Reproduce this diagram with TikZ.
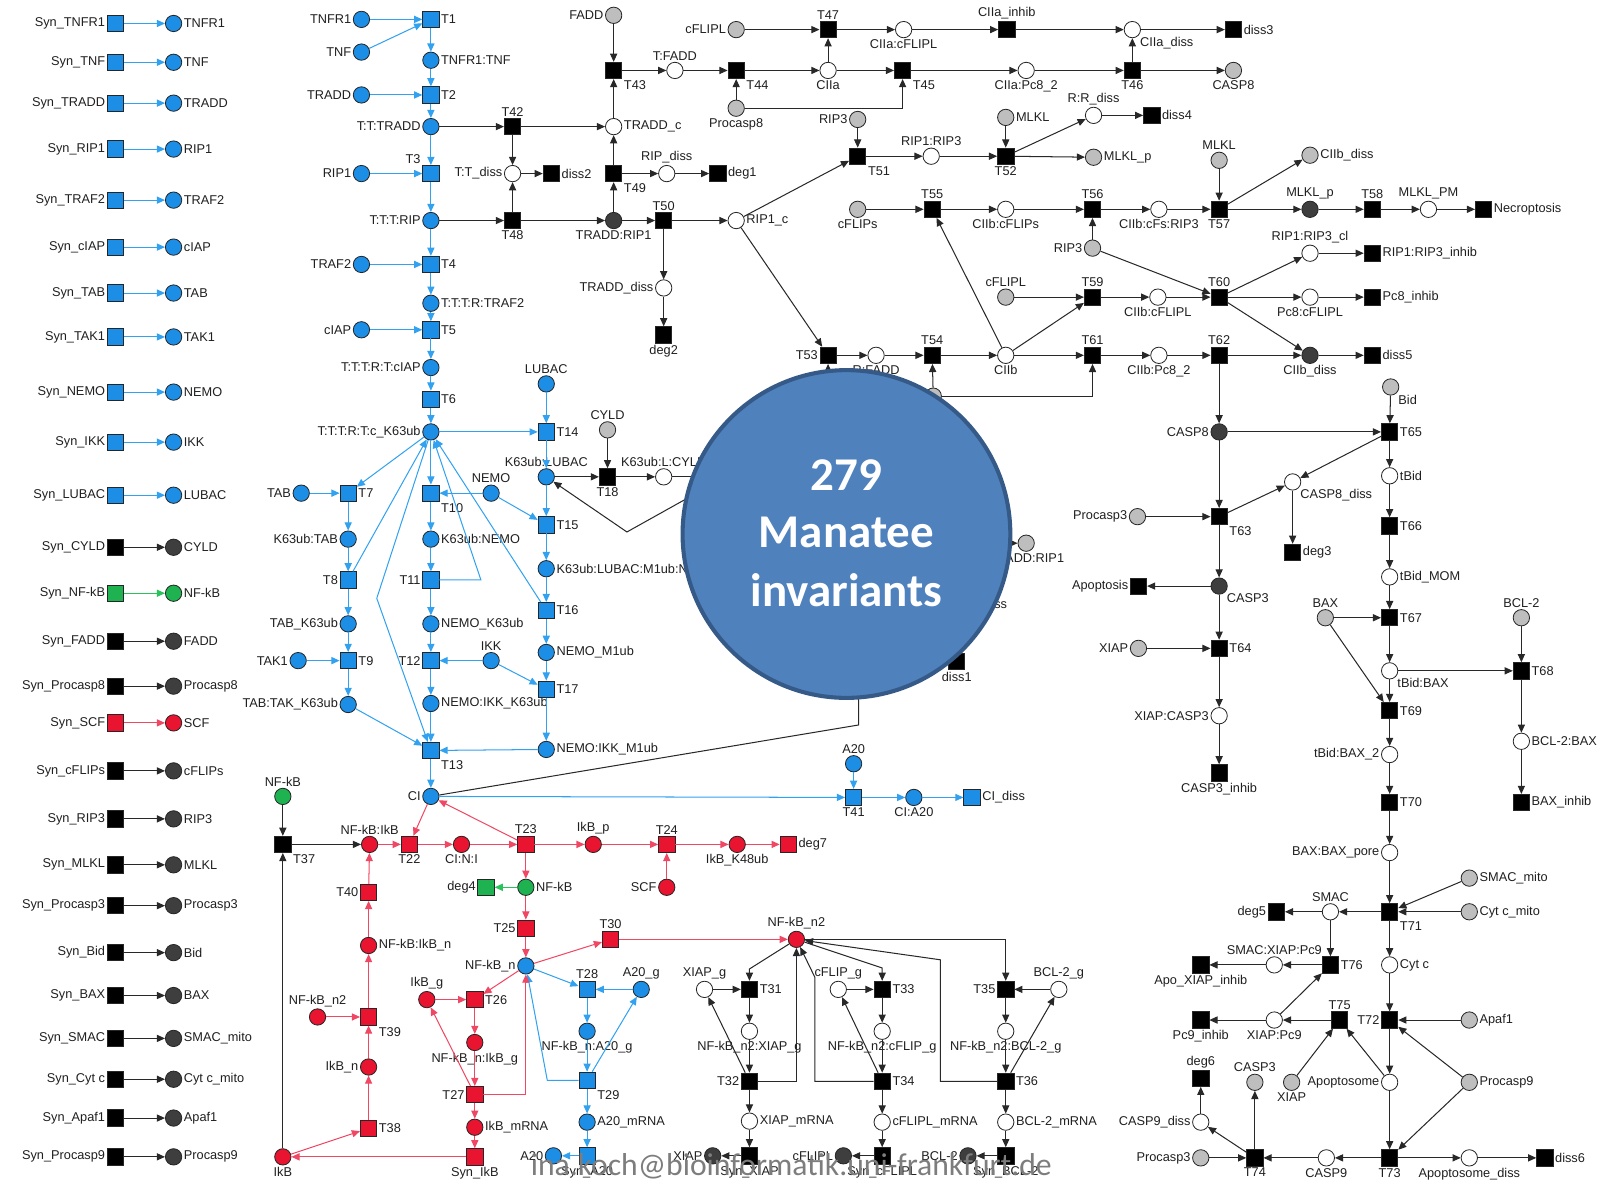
\documentclass[tikz,border=0pt]{standalone}
\usepackage{fontspec}
\setmainfont{Liberation Sans}
\newfontfamily\bubblefont{Carlito}
\usetikzlibrary{arrows.meta}
\definecolor{pblue}{RGB}{28,142,230}
\definecolor{ablue}{RGB}{50,162,240}
\definecolor{pred}{RGB}{232,20,48}
\definecolor{ared}{RGB}{240,72,100}
\definecolor{pgreen}{RGB}{30,178,80}
\definecolor{agreen}{RGB}{40,195,90}
\definecolor{pgray}{RGB}{190,190,190}
\definecolor{pdark}{RGB}{62,62,62}
\definecolor{akblack}{RGB}{40,40,40}
\definecolor{bubble}{RGB}{79,129,189}
\definecolor{bubbleedge}{RGB}{54,90,135}
\definecolor{mailgray}{RGB}{125,125,125}

% place/transition with a label: style, name, position, label side, text
\newcommand\PNode[5]{\node[#1,label={[lab]#4:{#5}}] (#2) at (#3) {};}
% a list of straight arcs source/target
\newcommand\Arcs[2]{\foreach \sa/\sb in {#2} {\draw[#1] (\sa) -- (\sb);}}

\begin{document}
\begin{tikzpicture}[x=1pt,y=-1pt,
  lab/.style={font=\fontsize{12.5}{14}\selectfont, text=black!88, inner sep=1.5pt},
  place/.style={circle, draw=black!85, line width=0.8pt, minimum size=16pt, inner sep=0pt},
  trans/.style={rectangle, draw=black!85, line width=0.8pt, minimum size=16pt, inner sep=0pt},
  placeB/.style={place, fill=pblue}, placeR/.style={place, fill=pred},
  placeG/.style={place, fill=pgreen}, placeK/.style={place, fill=pdark},
  placeY/.style={place, fill=pgray}, placeW/.style={place, fill=white},
  transB/.style={trans, fill=pblue}, transR/.style={trans, fill=pred},
  transG/.style={trans, fill=pgreen}, transK/.style={trans, fill=black},
  arc/.style={line width=1pt, -{Triangle[length=8pt,width=7pt]}},
  aB/.style={arc, draw=ablue}, aR/.style={arc, draw=ared},
  aG/.style={arc, draw=agreen}, aK/.style={arc, draw=akblack},
  plain/.style={line width=1pt, draw=akblack}
]
\useasboundingbox (0,0) rectangle (1568,1158);

% ---------- synthesis column ----------
\foreach \yy/\sl/\pl/\tf/\pf/\ac [count=\i] in {
  23/Syn\_TNFR1/TNFR1/pblue/pblue/ablue,
  61/Syn\_TNF/TNF/pblue/pblue/ablue,
  101/Syn\_TRADD/TRADD/pblue/pblue/ablue,
  146/Syn\_RIP1/RIP1/pblue/pblue/ablue,
  196/Syn\_TRAF2/TRAF2/pblue/pblue/ablue,
  242/Syn\_cIAP/cIAP/pblue/pblue/ablue,
  287/Syn\_TAB/TAB/pblue/pblue/ablue,
  330/Syn\_TAK1/TAK1/pblue/pblue/ablue,
  384/Syn\_NEMO/NEMO/pblue/pblue/ablue,
  433/Syn\_IKK/IKK/pblue/pblue/ablue,
  485/Syn\_LUBAC/LUBAC/pblue/pblue/ablue,
  536/Syn\_CYLD/CYLD/black/pdark/akblack,
  581/Syn\_NF-kB/NF-kB/pgreen/pgreen/agreen,
  628/Syn\_FADD/FADD/black/pdark/akblack,
  672/Syn\_Procasp8/Procasp8/black/pdark/akblack,
  708/Syn\_SCF/SCF/pred/pred/ared,
  755/Syn\_cFLIPs/cFLIPs/black/pdark/akblack,
  802/Syn\_RIP3/RIP3/black/pdark/akblack,
  847/Syn\_MLKL/MLKL/black/pdark/akblack,
  887/Syn\_Procasp3/Procasp3/black/pdark/akblack,
  933/Syn\_Bid/Bid/black/pdark/akblack,
  975/Syn\_BAX/BAX/black/pdark/akblack,
  1017/Syn\_SMAC/SMAC\_mito/black/pdark/akblack,
  1057/Syn\_Cyt c/Cyt c\_mito/black/pdark/akblack,
  1095/Syn\_Apaf1/Apaf1/black/pdark/akblack,
  1133/Syn\_Procasp9/Procasp9/black/pdark/akblack}
{
  \node[trans, fill=\tf, label={[lab]left:{\sl}}] (syn\i) at (113,\yy) {};
  \node[place, fill=\pf, label={[lab]right:{\pl}}] (spl\i) at (170,\yy) {};
  \draw[arc, draw=\ac] (syn\i) -- (spl\i);
}

% ---------- TNF receptor complex (blue) ----------
\PNode{placeB}{btnfr1}{354,19}{left}{TNFR1}
\PNode{transB}{t1}{422,19}{right}{T1}
\PNode{placeB}{btnf}{354,51}{left}{TNF}
\PNode{placeB}{btnfr1tnf}{422,59}{right}{TNFR1:TNF}
\PNode{placeB}{btradd}{354,93}{left}{TRADD}
\PNode{transB}{t2}{422,93}{right}{T2}
\PNode{placeB}{bttradd}{422,124}{left}{T:T:TRADD}
\PNode{transB}{t3}{422,170}{above left}{T3}
\PNode{placeB}{brip1}{354,170}{left}{RIP1}
\PNode{placeB}{btttrip}{422,216}{left}{T:T:T:RIP}
\PNode{placeB}{btraf2}{354,259}{left}{TRAF2}
\PNode{transB}{t4}{422,259}{right}{T4}
\PNode{placeB}{btttrtraf2}{422,297}{right}{T:T:T:R:TRAF2}
\PNode{placeB}{bciap}{354,323}{left}{cIAP}
\PNode{transB}{t5}{422,323}{right}{T5}
\PNode{placeB}{btttrtciap}{422,360}{left}{T:T:T:R:T:cIAP}
\PNode{transB}{t6}{422,391}{right}{T6}
\PNode{placeB}{hub}{422,423}{left}{T:T:T:R:T:c\_K63ub}
\PNode{placeB}{btab}{295,483}{left}{TAB}
\PNode{transB}{t7}{341,483}{right}{T7}
\PNode{placeB}{bk63tab}{341,528}{left}{K63ub:TAB}
\PNode{transB}{t8}{341,568}{left}{T8}
\PNode{placeB}{btabk63}{341,611}{left}{TAB\_K63ub}
\PNode{placeB}{btak1}{292,647}{left}{TAK1}
\PNode{transB}{t9}{341,647}{right}{T9}
\PNode{placeB}{btabtak}{341,690}{left}{TAB:TAK\_K63ub}
\PNode{transB}{t10}{422,483}{below right}{T10}
\PNode{placeB}{bnemo}{481,483}{above}{NEMO}
\PNode{placeB}{bk63nemo}{422,528}{right}{K63ub:NEMO}
\PNode{transB}{t11}{422,568}{left}{T11}
\PNode{placeB}{bnemok63}{422,611}{right}{NEMO\_K63ub}
\PNode{transB}{t12}{422,647}{left}{T12}
\PNode{placeB}{bikk}{481,647}{above}{IKK}
\PNode{placeB}{bnemoikk}{422,689}{right}{NEMO:IKK\_K63ub}
\PNode{transB}{t13}{422,735}{below right}{T13}
\PNode{placeB}{ci}{422,780}{left}{CI}
\PNode{placeB}{blubac}{535,376}{above}{LUBAC}
\PNode{transB}{t14}{535,423}{right}{T14}
\PNode{placeB}{bk63lubac}{535,467}{above}{K63ub:LUBAC}
\PNode{transB}{t15}{535,514}{right}{T15}
\PNode{placeB}{bk63lm}{535,557}{right}{K63ub:LUBAC:M1ub:NEMO}
\PNode{transB}{t16}{535,598}{right}{T16}
\PNode{placeB}{bnemom1}{535,639}{right}{NEMO\_M1ub}
\PNode{transB}{t17}{535,675}{right}{T17}
\PNode{placeB}{bnemoikkm1}{535,734}{right}{NEMO:IKK\_M1ub}
\PNode{placeY}{cyld}{595,421}{above}{CYLD}
\PNode{transK}{t18}{595,467}{below}{T18}
\PNode{placeW}{k63lcyld}{650,467}{above}{K63ub:L:CYLD}
\PNode{placeB}{a20}{836,748}{above}{A20}
\PNode{transB}{t41}{836,781}{below}{T41}
\PNode{placeB}{cia20}{895,781}{below}{CI:A20}
\PNode{transB}{cidiss}{952,781}{right}{CI\_diss}

% ---------- complex II and necroptosis (black) ----------
\PNode{placeY}{fadd}{601,15}{left}{FADD}
\PNode{transK}{t43}{601,69}{below right}{T43}
\PNode{placeW}{tfadd}{661,69}{above}{T:FADD}
\PNode{transK}{t44}{721,69}{below right}{T44}
\PNode{placeY}{procasp8}{721,106}{below}{Procasp8}
\PNode{placeW}{ciia}{811,69}{below}{CIIa}
\PNode{placeY}{cflipla}{721,29}{left}{cFLIPL}
\PNode{transK}{t47}{811,29}{above}{T47}
\PNode{placeW}{ciiacflipl}{885,29}{below}{CIIa:cFLIPL}
\PNode{transK}{ciiainhib}{986,29}{above}{CIIa\_inhib}
\PNode{placeW}{ciiadiss}{1109,29}{below right}{CIIa\_diss}
\PNode{transK}{diss3}{1208,29}{right}{diss3}
\PNode{transK}{t45}{884,69}{below right}{T45}
\PNode{placeW}{ciiapc8}{1005,69}{below}{CIIa:Pc8\_2}
\PNode{transK}{t46}{1109,69}{below}{T46}
\PNode{placeY}{casp8a}{1208,69}{below}{CASP8}
\PNode{transK}{t42}{502,124}{above}{T42}
\PNode{placeW}{traddc}{601,124}{right}{TRADD\_c}
\PNode{placeW}{ttdiss}{502,170}{left}{T:T\_diss}
\PNode{transK}{diss2}{540,170}{right}{diss2}
\PNode{transK}{t49}{601,170}{below right}{T49}
\PNode{placeW}{ripdiss}{653,170}{above}{RIP\_diss}
\PNode{transK}{deg1}{703,170}{right}{deg1}
\PNode{transK}{t48}{502,216}{below}{T48}
\PNode{placeK}{traddrip1}{601,216}{below}{TRADD:RIP1}
\PNode{transK}{t50}{650,216}{above}{T50}
\PNode{placeW}{rip1c}{721,216}{right}{RIP1\_c}
\PNode{placeW}{tradddiss}{650,282}{left}{TRADD\_diss}
\PNode{transK}{deg2}{650,328}{below}{deg2}
\PNode{placeY}{rip3a}{840,117}{left}{RIP3}
\PNode{transK}{t51}{840,153}{below right}{T51}
\PNode{placeW}{rip1rip3}{912,153}{above}{RIP1:RIP3}
\PNode{transK}{t52}{985,153}{below}{T52}
\PNode{placeY}{mlkla}{985,115}{right}{MLKL}
\PNode{placeW}{rrdiss}{1071,113}{above}{R:R\_diss}
\PNode{transK}{diss4}{1128,113}{right}{diss4}
\PNode{placeY}{mlklpa}{1071,154}{right}{MLKL\_p}
\PNode{placeY}{cflips}{840,205}{below}{cFLIPs}
\PNode{transK}{t55}{913,205}{above}{T55}
\PNode{placeW}{ciibcflips}{985,205}{below}{CIIb:cFLIPs}
\PNode{transK}{t56}{1070,205}{above}{T56}
\PNode{placeW}{ciibcfsrip3}{1135,205}{below}{CIIb:cFs:RIP3}
\PNode{transK}{t57}{1194,205}{below}{T57}
\PNode{placeY}{mlklb}{1194,157}{above}{MLKL}
\PNode{placeY}{ciibdissa}{1283,152}{right}{CIIb\_diss}
\PNode{placeK}{mlklpb}{1283,205}{above}{MLKL\_p}
\PNode{transK}{t58}{1344,205}{above}{T58}
\PNode{placeW}{mlklpm}{1399,205}{above}{MLKL\_PM}
\PNode{transK}{necro}{1453,205}{right}{Necroptosis}
\PNode{placeY}{rip3b}{1070,243}{left}{RIP3}
\PNode{placeY}{cfliplb}{985,291}{above}{cFLIPL}
\PNode{transK}{t59}{1070,291}{above}{T59}
\PNode{placeW}{ciibcflipl}{1134,291}{below}{CIIb:cFLIPL}
\PNode{transK}{t60}{1194,291}{above}{T60}
\PNode{placeW}{riprip3cl}{1283,248}{above}{RIP1:RIP3\_cl}
\PNode{transK}{riprip3inh}{1344,248}{right}{RIP1:RIP3\_inhib}
\PNode{placeW}{pc8cflipl}{1283,291}{below}{Pc8:cFLIPL}
\PNode{transK}{pc8inhib}{1344,291}{right}{Pc8\_inhib}
\PNode{transK}{t53}{811,348}{left}{T53}
\PNode{placeW}{rfadd}{858,348}{below}{R:FADD}
\PNode{transK}{t54}{913,348}{above}{T54}
\PNode{placeW}{ciib}{985,348}{below}{CIIb}
\PNode{transK}{t61}{1070,348}{above}{T61}
\PNode{placeW}{ciibpc82}{1135,348}{below}{CIIb:Pc8\_2}
\PNode{transK}{t62}{1194,348}{above}{T62}
\PNode{placeK}{ciibdissb}{1283,348}{below}{CIIb\_diss}
\PNode{transK}{diss5}{1344,348}{right}{diss5}
\node[placeY] (hidplace) at (914,388) {};
\PNode{placeY}{traddripb}{1005,532}{below}{TRADD:RIP1}
\PNode{transK}{diss1}{937,648}{below}{diss1}
\node[lab, anchor=east] (disslab) at (988,591) {diss};

% ---------- apoptosis (black) ----------
\PNode{placeK}{casp8b}{1194,423}{left}{CASP8}
\PNode{placeY}{bid}{1362,379}{below right}{Bid}
\PNode{transK}{t65}{1361,423}{right}{T65}
\PNode{placeW}{tbid}{1361,466}{right}{tBid}
\PNode{placeW}{casp8diss}{1266,472}{below right}{CASP8\_diss}
\PNode{transK}{deg3}{1266,541}{right}{deg3}
\PNode{placeY}{procasp3a}{1114,506}{left}{Procasp3}
\PNode{transK}{t63}{1194,506}{below right}{T63}
\PNode{transK}{t66}{1361,515}{right}{T66}
\PNode{placeW}{tbidmom}{1361,565}{right}{tBid\_MOM}
\PNode{transK}{apoptosis}{1115,574}{left}{Apoptosis}
\PNode{placeK}{casp3a}{1194,574}{below right}{CASP3}
\PNode{transK}{t67}{1361,605}{right}{T67}
\PNode{placeY}{bax}{1298,605}{above}{BAX}
\PNode{placeY}{bcl2}{1490,605}{above}{BCL-2}
\PNode{placeY}{xiapa}{1115,635}{left}{XIAP}
\PNode{transK}{t64}{1194,635}{right}{T64}
\PNode{placeW}{tbidbax}{1361,657}{below right}{tBid:BAX}
\PNode{transK}{t68}{1490,657}{right}{T68}
\PNode{transK}{t69}{1361,696}{right}{T69}
\PNode{placeW}{xiapcasp3}{1194,701}{left}{XIAP:CASP3}
\PNode{placeW}{bcl2bax}{1490,726}{right}{BCL-2:BAX}
\PNode{placeW}{tbidbax2}{1361,739}{left}{tBid:BAX\_2}
\PNode{transK}{casp3inhib}{1194,757}{below}{CASP3\_inhib}
\PNode{transK}{t70}{1361,786}{right}{T70}
\PNode{transK}{baxinhib}{1490,786}{right}{BAX\_inhib}
\PNode{placeW}{baxpore}{1361,835}{left}{BAX:BAX\_pore}
\PNode{placeY}{smacmito}{1439,860}{right}{SMAC\_mito}
\PNode{transK}{t71}{1361,893}{below right}{T71}
\PNode{placeY}{cytcmito}{1439,893}{right}{Cyt c\_mito}
\PNode{placeW}{smac}{1303,893}{above}{SMAC}
\PNode{transK}{deg5}{1250,893}{left}{deg5}
\PNode{transK}{t76}{1303,945}{right}{T76}
\PNode{placeW}{cytc}{1361,945}{right}{Cyt c}
\PNode{placeW}{smacxiappc9}{1248,945}{above}{SMAC:XIAP:Pc9}
\PNode{transK}{apoxiapinhib}{1176,945}{below}{Apo\_XIAP\_inhib}
\PNode{transK}{t75}{1312,999}{above}{T75}
\PNode{transK}{t72}{1361,999}{left}{T72}
\PNode{placeY}{apaf1}{1439,999}{right}{Apaf1}
\PNode{placeW}{xiappc9}{1248,999}{below}{XIAP:Pc9}
\PNode{transK}{pc9inhib}{1176,999}{below}{Pc9\_inhib}
\PNode{transK}{deg6}{1176,1056}{above}{deg6}
\PNode{placeY}{casp3b}{1229,1060}{above}{CASP3}
\PNode{placeY}{xiapb}{1265,1060}{below}{XIAP}
\PNode{placeW}{apoptosome}{1361,1060}{left}{Apoptosome}
\PNode{placeY}{procasp9}{1439,1060}{right}{Procasp9}
\PNode{placeW}{casp9diss}{1176,1099}{left}{CASP9\_diss}
\PNode{placeY}{procasp3b}{1176,1134}{left}{Procasp3}
\PNode{transK}{t74}{1229,1134}{below}{T74}
\PNode{placeW}{casp9}{1299,1134}{below}{CASP9}
\PNode{transK}{t73}{1361,1134}{below}{T73}
\PNode{placeW}{apodiss}{1439,1134}{below}{Apoptosome\_diss}
\PNode{transK}{diss6}{1513,1134}{right}{diss6}

% ---------- NF-kB module (red / green) ----------
\PNode{placeG}{nfkbA}{277,780}{above}{NF-kB}
\PNode{transK}{t37}{277,827}{below right}{T37}
\PNode{placeR}{nfkbikb}{362,827}{above}{NF-kB:IkB}
\PNode{transR}{t22}{401,827}{below}{T22}
\PNode{placeR}{cini}{452,827}{below}{CI:N:I}
\PNode{transR}{t23}{515,827}{above}{T23}
\PNode{placeR}{ikbp}{581,827}{above}{IkB\_p}
\PNode{transR}{t24}{653,827}{above}{T24}
\PNode{placeR}{ikbk48}{722,827}{below}{IkB\_K48ub}
\PNode{transR}{deg7}{772,827}{right}{deg7}
\PNode{placeR}{scf}{653,869}{left}{SCF}
\PNode{placeG}{nfkbB}{515,869}{right}{NF-kB}
\PNode{transG}{deg4}{476,869}{left}{deg4}
\PNode{transR}{t25}{515,909}{left}{T25}
\PNode{placeB}{nfkbn}{515,946}{left}{NF-kB\_n}
\PNode{transR}{t30}{598,920}{above}{T30}
\PNode{placeR}{nfkbn2}{780,920}{above}{NF-kB\_n2}
\PNode{transR}{t40}{361,874}{left}{T40}
\PNode{placeR}{nfkbikbn}{361,926}{right}{NF-kB:IkB\_n}
\PNode{placeR}{ikbg}{418,979}{above}{IkB\_g}
\PNode{transR}{t26}{465,979}{right}{T26}
\PNode{placeR}{nfkbntwob}{311,996}{above}{NF-kB\_n2}
\PNode{transR}{t39}{361,996}{below right}{T39}
\PNode{placeR}{nfkbnikbg}{465,1021}{below}{NF-kB\_n:IkB\_g}
\PNode{placeR}{ikbn}{361,1045}{left}{IkB\_n}
\PNode{transR}{t27}{465,1072}{left}{T27}
\PNode{placeR}{ikbmrna}{465,1104}{right}{IkB\_mRNA}
\PNode{transR}{t38}{361,1105}{right}{T38}
\PNode{placeR}{ikb}{277,1133}{below}{IkB}
\PNode{transR}{synikb}{465,1133}{below}{Syn\_IkB}
\PNode{transB}{t28}{575,969}{above}{T28}
\PNode{placeB}{a20g}{628,969}{above}{A20\_g}
\PNode{placeB}{nfkbna20g}{575,1010}{below}{NF-kB\_n:A20\_g}
\PNode{transB}{t29}{575,1058}{below right}{T29}
\PNode{placeB}{a20mrna}{575,1099}{right}{A20\_mRNA}
\PNode{transB}{syna20}{575,1132}{below}{Syn\_A20}
\PNode{placeB}{a20b}{542,1132}{left}{A20}

% ---------- target genes (black) ----------
\PNode{placeW}{xiapg}{690,969}{above}{XIAP\_g}
\PNode{transK}{t31}{734,969}{right}{T31}
\PNode{placeW}{nxiapg}{734,1010}{below}{NF-kB\_n2:XIAP\_g}
\PNode{transK}{t32}{734,1059}{left}{T32}
\PNode{placeW}{xiapmrna}{734,1098}{right}{XIAP\_mRNA}
\PNode{transK}{synxiap}{734,1132}{below}{Syn\_XIAP}
\PNode{placeK}{xiapc}{698,1132}{left}{XIAP}
\PNode{placeW}{cflipg}{821,969}{above}{cFLIP\_g}
\PNode{transK}{t33}{864,969}{right}{T33}
\PNode{placeW}{ncflipg}{864,1010}{below}{NF-kB\_n2:cFLIP\_g}
\PNode{transK}{t34}{864,1059}{right}{T34}
\PNode{placeW}{cfliplmrna}{864,1099}{right}{cFLIPL\_mRNA}
\PNode{transK}{syncflipl}{864,1132}{below}{Syn\_cFLIPL}
\PNode{placeK}{cfliplc}{826,1132}{left}{cFLIPL}
\PNode{placeW}{bcltwog}{1037,969}{above}{BCL-2\_g}
\PNode{transK}{t35}{985,969}{left}{T35}
\PNode{placeW}{nbcl2g}{985,1010}{below}{NF-kB\_n2:BCL-2\_g}
\PNode{transK}{t36}{985,1059}{right}{T36}
\PNode{placeW}{bcl2mrna}{985,1099}{right}{BCL-2\_mRNA}
\PNode{transK}{synbcl2}{985,1132}{below}{Syn\_BCL-2}
\PNode{placeK}{bcl2c}{948,1132}{left}{BCL-2}

% ---------- arcs ----------
\Arcs{aB}{btnfr1/t1, btnf/t1, t1/btnfr1tnf, btnfr1tnf/t2, btradd/t2, t2/bttradd,
  bttradd/t3, brip1/t3, t3/btttrip, btttrip/t4, btraf2/t4, t4/btttrtraf2,
  btttrtraf2/t5, bciap/t5, t5/btttrtciap, btttrtciap/t6, t6/hub,
  hub/t7, btab/t7, t7/bk63tab, bk63tab/t8, t8/hub, t8/btabk63, btabk63/t9,
  btak1/t9, t9/btabtak, btabtak/t13,
  hub/t10, bnemo/t10, t10/bk63nemo, bk63nemo/t11, t11/bnemok63, bnemok63/t12,
  bikk/t12, t12/bnemoikk, bnemoikk/t13,
  hub/t14, blubac/t14, t14/bk63lubac, bk63lubac/t15, bnemo/t15, t15/bk63lm,
  bk63lm/t16, t16/hub, t16/bnemom1, bnemom1/t17, bikk/t17, t17/bnemoikkm1,
  bnemoikkm1/t13, t13/ci, ci/t41, a20/t41, t41/cia20, cia20/cidiss,
  nfkbn/t28, a20g/t28, t28/nfkbna20g, nfkbna20g/t29, t29/a20g, t29/a20mrna,
  a20mrna/syna20, syna20/a20b}
\draw[aB] (t11) -- (471,568) -- (hub);
\draw[aB] (hub) -- (369,586) -- (t13);
\draw[aB] (t29) -- (536,1058) -- (nfkbn);

\Arcs{aR}{nfkbikb/t22, ci/t22, t22/cini, cini/t23, t23/ci, t23/ikbp, ikbp/t24,
  scf/t24, t24/ikbk48, ikbk48/deg7, t23/nfkbB, nfkbB/t25, t25/nfkbn,
  nfkbn/t30, t30/nfkbn2, nfkbn/t26, ikbg/t26, t26/nfkbnikbg, nfkbnikbg/t27,
  t27/ikbg, t27/ikbmrna, ikbmrna/synikb, synikb/ikb, ikb/t38, t38/ikbn,
  ikbn/t39, nfkbntwob/t39, t39/nfkbikbn, nfkbikbn/t40, t40/nfkbikb}
\draw[aR] (t27) -- (515,1072) -- (nfkbn);
\Arcs{aG}{nfkbB/deg4}
\Arcs{aK}{nfkbA/t37, ikb/t37, t37/nfkbikb}

\Arcs{aK}{xiapg/t31, t31/nxiapg, nxiapg/t32, t32/xiapg, t32/xiapmrna,
  xiapmrna/synxiap, synxiap/xiapc, cflipg/t33, t33/ncflipg, ncflipg/t34,
  t34/cflipg, t34/cfliplmrna, cfliplmrna/syncflipl, syncflipl/cfliplc,
  bcltwog/t35, t35/nbcl2g, nbcl2g/t36, t36/bcltwog, t36/bcl2mrna,
  bcl2mrna/synbcl2, synbcl2/bcl2c}
\draw[aK] (nfkbn2) -- (734,949) -- (t31);
\draw[aK] (nfkbn2) -- (864,948) -- (t33);
\draw[aK] (nfkbn2) -- (985,920) -- (t35);
\draw[aK] (t32) -- (780,1059) -- (nfkbn2);
\draw[aK] (t34) -- (798,1059) -- (798,957) -- (nfkbn2);
\draw[aK] (t36) -- (921,1059) -- (921,940) -- (nfkbn2);

\Arcs{aK}{bttradd/t42, btttrip/t48, t42/traddc, t42/ttdiss, t48/ttdiss,
  ttdiss/diss2, t48/traddrip1, traddc/t43, fadd/t43, t43/tfadd, tfadd/t44,
  procasp8/t44, t44/ciia, ciia/t47, cflipla/t47, t47/ciiacflipl,
  ciiacflipl/ciiainhib, ciiainhib/ciiadiss, ciiadiss/diss3, ciia/t45,
  t45/ciiapc8, ciiapc8/t46, t46/ciiadiss, t46/casp8a, traddrip1/t49,
  t49/traddc, t49/ripdiss, ripdiss/deg1, traddrip1/t50, t50/rip1c,
  t50/tradddiss, tradddiss/deg2, rip1c/t51, rip3a/t51, t51/rip1rip3,
  rip1rip3/t52, mlkla/t52, t52/rrdiss, rrdiss/diss4, t52/mlklpa, rip1c/t53,
  t53/rfadd, rfadd/t54, t54/ciib, ciib/t55, cflips/t55, t55/ciibcflips,
  ciibcflips/t56, rip3b/t56, t56/ciibcfsrip3, ciibcfsrip3/t57, mlklb/t57,
  t57/ciibdissa, t57/mlklpb, mlklpb/t58, t58/mlklpm, mlklpm/necro,
  rip3b/t60, cfliplb/t59, ciib/t59, t59/ciibcflipl, ciibcflipl/t60,
  t60/riprip3cl, riprip3cl/riprip3inh, t60/pc8cflipl, pc8cflipl/pc8inhib,
  t60/ciibdissb, ciibdissb/diss5, ciib/t61, hidplace/t54, t61/ciibpc82,
  ciibpc82/t62, t62/ciibdissb, t62/casp8b}
\draw[aK] (procasp8) -- (884,106) -- (t45);
\draw[aK] (hidplace) -- (1070,388) -- (t61);

\Arcs{aK}{casp8b/t65, bid/t65, t65/tbid, t65/casp8diss, casp8diss/deg3,
  casp8b/t63, procasp3a/t63, t63/casp8diss, t63/casp3a, casp3a/apoptosis,
  casp3a/t64, xiapa/t64, t64/xiapcasp3, xiapcasp3/casp3inhib, tbid/t66,
  t66/tbidmom, tbidmom/t67, bax/t67, bax/t69, t67/tbidbax, tbidbax/t68,
  bcl2/t68, t68/bcl2bax, bcl2bax/baxinhib, tbidbax/t69, t69/tbidbax2,
  tbidbax2/t70, t70/baxpore, baxpore/t71, smacmito/t71, cytcmito/t71,
  t71/smac, smac/deg5, smac/t76, t71/cytc, cytc/t72, apaf1/t72,
  procasp9/t72, procasp9/t73, t72/apoptosome, apoptosome/t75, xiapb/t75,
  t75/xiappc9, xiappc9/pc9inhib, xiappc9/t76, t76/smacxiappc9,
  smacxiappc9/apoxiapinhib, apoptosome/t73, t73/casp9, casp9/t74,
  procasp3b/t74, t74/casp3b, t74/casp9diss, casp9diss/deg6, t73/apodiss,
  apodiss/diss6}

% CYLD branch and arcs running under the summary disc
\coordinate (hA) at (700,467);
\coordinate (hB) at (700,473);
\coordinate (kinkL) at (614,521);
\coordinate (hC) at (811,400);
\coordinate (hD) at (955,532);
\coordinate (hE) at (925,618);
\coordinate (hF) at (841,650);
\Arcs{aK}{cyld/t18, bk63lubac/t18, t18/k63lcyld, hC/t53, hD/traddripb, hE/diss1}
\draw[plain] (k63lcyld) -- (hA);
\draw[aK] (hB) -- (kinkL) -- (bk63lubac);
\draw[plain] (ci) -- (841,710) -- (hF);

% ---------- summary disc ----------
\node[circle, fill=bubble, draw=bubbleedge, line width=4pt, minimum size=321pt, inner sep=0pt] (disc) at (829,523) {};
\node[text=white, font={\bubblefont\bfseries\fontsize{46}{50}\selectfont}] (d1) at (829,465) {279};
\node[text=white, font={\bubblefont\bfseries\fontsize{46}{50}\selectfont}] (d2) at (829,521) {Manatee};
\node[text=white, font={\bubblefont\bfseries\fontsize{46}{50}\selectfont}] (d3) at (829,578) {invariants};

% ---------- contact line ----------
\node[text=mailgray, font={\bubblefont\fontsize{31}{34}\selectfont}] (mail) at (775,1142) {ina.koch@bioinformatik.uni-frankfurt.de};
\end{tikzpicture}
\end{document}
